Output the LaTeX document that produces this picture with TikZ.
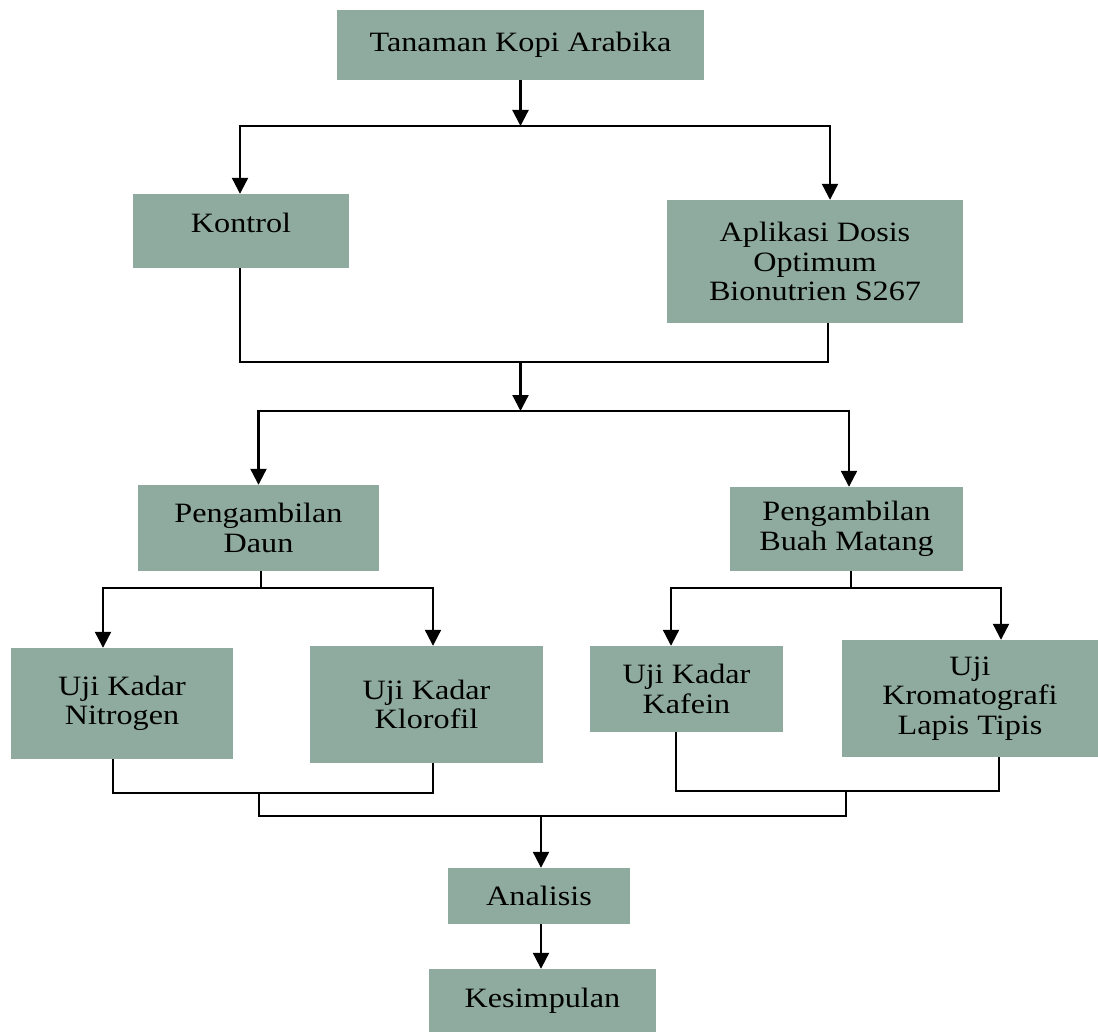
\documentclass[tikz,border=0pt]{standalone}
\usepackage{fontspec}
\setmainfont[FakeStretch=1.15]{Liberation Serif}
\usetikzlibrary{arrows.meta}
\definecolor{boxgreen}{RGB}{143,171,160}
\tikzset{
  box/.style={fill=boxgreen, draw=none, inner sep=0pt, align=center,
    font=\fontsize{28}{29.5}\selectfont, text=black},
  conn/.style={line width=2.2pt, black},
  arr/.style={conn, -{Triangle[width=16pt,length=16pt]}}
}
\begin{document}
\begin{tikzpicture}[x=1pt,y=-1pt]
\useasboundingbox (0,0) rectangle (1098,1032);
% boxes
\node[box, minimum width=367pt, minimum height=70pt] (top) at (520.5,45) {Tanaman Kopi Arabika};
\node[box, minimum width=216pt, minimum height=74pt, text depth=16pt] (kontrol) at (241,231) {Kontrol};
\node[box, minimum width=296pt, minimum height=123pt] (aplikasi) at (815,261.5) {Aplikasi Dosis\\Optimum\\Bionutrien S267};
\node[box, minimum width=241pt, minimum height=86pt] (daun) at (258.5,528) {Pengambilan\\Daun};
\node[box, minimum width=233pt, minimum height=84pt] (buah) at (846.5,529) {Pengambilan\\Buah Matang};
\node[box, minimum width=222pt, minimum height=111pt] (nitro) at (122,703.5) {Uji Kadar\\Nitrogen};
\node[box, minimum width=233pt, minimum height=117pt] (kloro) at (426.5,704.5) {Uji Kadar\\Klorofil};
\node[box, minimum width=193pt, minimum height=86pt] (kafein) at (686.5,689) {Uji Kadar\\Kafein};
\node[box, minimum width=256pt, minimum height=117pt] (krom) at (970,698.5) {Uji\\Kromatografi\\Lapis Tipis};
\node[box, minimum width=182pt, minimum height=56pt] (analisis) at (539,896) {Analisis};
\node[box, minimum width=227pt, minimum height=63pt] (kesimpulan) at (542.5,1000.5) {Kesimpulan};
% junction points
\coordinate (j1) at (520.5,126);
\coordinate (m1) at (520.5,362);
\coordinate (j2) at (520.5,411);
\coordinate (d1) at (261,588);
\coordinate (b1) at (851,588);
\coordinate (n1) at (259,793);
\coordinate (r1) at (846,791);
\coordinate (c1) at (541,816);
% connectors
\draw[arr] (top) -- (j1);
\draw[arr] (j1) -| ([xshift=-1pt]kontrol.north);
\draw[arr] (j1) -| ([xshift=15pt]aplikasi.north);
\draw[conn] ([xshift=-1pt]kontrol.south) |- (m1);
\draw[conn] ([xshift=13pt]aplikasi.south) |- (m1);
\draw[arr] (m1) -- (j2);
\draw[arr] (j2) -| (daun.north);
\draw[arr] (j2) -| ([xshift=2.5pt]buah.north);
\draw[conn] ([xshift=2.5pt]daun.south) -- (d1);
\draw[arr] (d1) -| ([xshift=-19pt]nitro.north);
\draw[arr] (d1) -| ([xshift=6.5pt]kloro.north);
\draw[conn] ([xshift=4.5pt]buah.south) -- (b1);
\draw[arr] (b1) -| ([xshift=-15.5pt]kafein.north);
\draw[arr] (b1) -| ([xshift=31pt]krom.north);
\draw[conn] ([xshift=-9pt]nitro.south) |- (n1);
\draw[conn] ([xshift=6.5pt]kloro.south) |- (n1);
\draw[conn] ([xshift=-10.5pt]kafein.south) |- (r1);
\draw[conn] ([xshift=29pt]krom.south) |- (r1);
\draw[conn] (n1) |- (c1);
\draw[conn] (r1) |- (c1);
\draw[arr] (c1) -- ([xshift=2pt]analisis.north);
\draw[arr] ([xshift=2pt]analisis.south) -- ([xshift=-1.5pt]kesimpulan.north);
\end{tikzpicture}
\end{document}
